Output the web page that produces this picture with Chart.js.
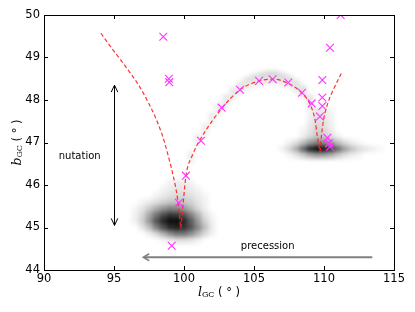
<!DOCTYPE html>
<html><head><meta charset="utf-8">
<script src="https://cdn.jsdelivr.net/npm/chart.js@4.4.1/dist/chart.umd.min.js"></script>
<style>html,body{margin:0;padding:0;background:#fff}#wrap{width:415px;height:312px}</style>
</head><body><div id="wrap"><canvas id="c" width="415" height="312"></canvas></div>
<script>
// ---------- data ----------
const xTicks = [90, 95, 100, 105, 110, 115];
const yTicks = [44, 45, 46, 47, 48, 49, 50];

// observed positions (magenta crosses)
const obsX = [98.52, 98.92, 98.95, 101.21, 102.69, 104.0, 105.36, 106.33, 107.45, 108.43, 109.12,
              109.88, 109.88, 109.88, 109.71, 110.43, 111.19, 110.24, 110.35, 110.43, 100.14, 99.64, 99.12];
const obsY = [49.49, 48.50, 48.42, 47.04, 47.82, 48.24, 48.45, 48.49, 48.41, 48.17, 47.92,
              48.47, 48.06, 47.86, 47.61, 49.23, 50.00, 47.11, 46.98, 46.90, 46.22, 45.58, 44.57];

// model track (red dashed), three branches between the cusps
const trackLeftX  = [94.07, 94.83, 95.67, 97.10, 98.40, 98.95, 99.24, 99.52, 99.78];
const trackLeftY  = [49.57, 49.22, 48.86, 48.16, 47.22, 46.59, 46.20, 45.72, 44.98];
const trackArcX   = [99.78, 99.95, 100.14, 100.60, 101.14, 102.69, 104.00, 105.36, 106.38, 107.45, 108.40, 109.00, 109.36, 109.50, 109.72];
const trackArcY   = [44.98, 45.60, 46.22, 46.70, 47.06, 47.80, 48.24, 48.45, 48.49, 48.39, 48.17, 47.90, 47.53, 47.20, 46.78];
const trackRightX = [109.72, 109.80, 109.98, 110.30, 110.75, 111.26];
const trackRightY = [46.78, 47.10, 47.55, 47.95, 48.30, 48.64];

// density map: rows of cells (row centre b, first l, values of 0.5 deg wide bins)
const heatRowB  = [46.05, 45.9, 45.75, 45.6, 45.45, 45.3, 45.15, 45.0, 44.85, 44.7,
                   47.75, 47.6, 47.45, 47.3, 47.15, 47.0, 46.85, 46.7];
const heatRowL0 = [99.0, 98.5, 98.0, 97.0, 96.5, 96.5, 96.5, 97.0, 97.5, 98.5,
                   109.0, 109.0, 109.0, 108.5, 108.5, 107.5, 107.0, 107.5];
const heatRowV  = [
  [0.05,0.07,0.07,0.05],
  [0.05,0.08,0.10,0.10,0.08,0.05],
  [0.05,0.08,0.12,0.15,0.15,0.12,0.08,0.04],
  [0.04,0.08,0.12,0.18,0.22,0.25,0.22,0.18,0.10,0.05],
  [0.04,0.10,0.20,0.32,0.42,0.50,0.48,0.40,0.28,0.15,0.06],
  [0.06,0.15,0.35,0.55,0.72,0.82,0.80,0.70,0.50,0.30,0.12,0.04],
  [0.06,0.18,0.40,0.68,0.88,1.00,1.00,0.88,0.65,0.40,0.18,0.06],
  [0.10,0.25,0.50,0.72,0.88,0.92,0.85,0.70,0.48,0.25,0.08],
  [0.06,0.15,0.30,0.45,0.55,0.55,0.45,0.30,0.15,0.05],
  [0.04,0.08,0.12,0.12,0.10,0.06],
  [0.05,0.10,0.08,0.04],
  [0.06,0.12,0.10,0.05],
  [0.08,0.15,0.12,0.06],
  [0.04,0.10,0.18,0.15,0.08],
  [0.06,0.14,0.22,0.20,0.12,0.05],
  [0.05,0.12,0.25,0.40,0.50,0.48,0.38,0.25,0.14,0.07,0.03],
  [0.05,0.15,0.32,0.60,0.88,1.00,0.95,0.80,0.58,0.38,0.24,0.15,0.10,0.06,0.03],
  [0.04,0.10,0.20,0.32,0.38,0.36,0.30,0.20,0.12,0.07,0.04]
];
// faint density along the arc: l, b, value
const heatArcL = [100.5,100.5,101.0,101.0,101.5,101.5,102.0,102.0,102.5,102.5,103.0,103.0,103.5,103.5,104.0,104.0,104.5,104.5,
                  105.0,105.0,105.5,105.5,106.0,106.0,106.5,106.5,107.0,107.0,107.5,107.5,108.0,108.0,108.5,108.5,109.0,109.0];
const heatArcB = [46.72,46.57,47.10,46.95,47.37,47.22,47.62,47.47,47.85,47.70,48.05,47.90,48.22,48.07,48.36,48.21,48.47,48.32,
                  48.54,48.39,48.58,48.43,48.61,48.46,48.61,48.46,48.57,48.42,48.51,48.36,48.40,48.25,48.27,48.12,48.04,47.89];
const heatArcV = [0.08,0.06,0.08,0.06,0.08,0.06,0.09,0.06,0.09,0.06,0.10,0.07,0.10,0.07,0.11,0.08,0.12,0.08,
                  0.13,0.09,0.15,0.09,0.16,0.10,0.16,0.10,0.14,0.09,0.13,0.09,0.13,0.09,0.13,0.09,0.12,0.09];

// annotations
const nutationArrowX = [95, 95];
const nutationArrowY = [48.35, 45.05];
const precessionArrowX = [113.45, 97.09];
const precessionArrowY = [44.30, 44.30];
const nutationLabel = {text: 'nutation', x: 92.55, y: 46.68};
const precessionLabel = {text: 'precession', x: 105.98, y: 44.55};

// ---------- styling ----------
const BIN_W = 0.5, BIN_H = 0.15;
const RED = 'rgba(255,30,30,0.9)';
const MAGENTA = '#ff33ff';
const FONT = '"DejaVu Sans", "Bitstream Vera Sans", sans-serif';

function pts(xs, ys) { return xs.map((v, i) => ({x: v, y: ys[i]})); }
function trackDs(xs, ys) {
  return {type: 'line', data: pts(xs, ys), borderColor: RED, borderWidth: 1.2, borderDash: [4, 2.5],
          pointRadius: 0, fill: false, cubicInterpolationMode: 'monotone', clip: 0, order: 2};
}

const heatPlugin = {
  id: 'heat',
  beforeDatasetsDraw(chart) {
    const {ctx, chartArea: a, scales: {x, y}} = chart;
    const off = document.createElement('canvas');
    off.width = chart.width; off.height = chart.height;
    const o = off.getContext('2d');
    const cell = (l, b, v) => {
      const x0 = x.getPixelForValue(l - BIN_W / 2), x1 = x.getPixelForValue(l + BIN_W / 2);
      const y0 = y.getPixelForValue(b + BIN_H / 2), y1 = y.getPixelForValue(b - BIN_H / 2);
      o.fillStyle = `rgba(0,0,0,${v})`;
      o.fillRect(x0, y0, x1 - x0, y1 - y0);
    };
    heatRowB.forEach((b, r) => heatRowV[r].forEach((v, k) => cell(heatRowL0[r] + k * BIN_W, b, v)));
    heatArcL.forEach((l, i) => cell(l, heatArcB[i], heatArcV[i]));
    ctx.save();
    ctx.beginPath(); ctx.rect(a.left, a.top, a.right - a.left, a.bottom - a.top); ctx.clip();
    ctx.filter = 'blur(2px)';
    ctx.drawImage(off, 0, 0);
    ctx.restore();
  }
};

function drawTitle(ctx, cx, cy, sym, rot) {
  const parts = [
    {t: sym, f: 'italic 12.5px "DejaVu Serif", serif', dy: 0},
    {t: 'GC', f: '8px "DejaVu Serif", serif', dy: 2},
    {t: ' ( ° )', f: '11.5px ' + FONT, dy: 0}
  ];
  ctx.save();
  ctx.translate(cx, cy);
  if (rot) ctx.rotate(-Math.PI / 2);
  let w = 0;
  parts.forEach(p => { ctx.font = p.f; p.w = ctx.measureText(p.t).width; w += p.w; });
  let xx = -w / 2;
  ctx.fillStyle = '#000';
  ctx.textBaseline = 'middle';
  ctx.textAlign = 'left';
  parts.forEach(p => { ctx.font = p.f; ctx.fillText(p.t, xx, p.dy); xx += p.w; });
  ctx.restore();
}

const overlayPlugin = {
  id: 'overlay',
  afterDraw(chart) {
    const {ctx, chartArea: a, scales: {x, y}} = chart;
    ctx.save();
    // frame
    ctx.strokeStyle = '#000'; ctx.lineWidth = 1;
    ctx.strokeRect(Math.round(a.left) + 0.5, Math.round(a.top) + 0.5, Math.round(a.right - a.left), Math.round(a.bottom - a.top));
    // inward ticks on all four sides
    ctx.beginPath();
    xTicks.forEach(t => {
      const px = Math.round(x.getPixelForValue(t)) + 0.5;
      ctx.moveTo(px, a.bottom); ctx.lineTo(px, a.bottom - 4);
      ctx.moveTo(px, a.top); ctx.lineTo(px, a.top + 4);
    });
    yTicks.forEach(t => {
      const py = Math.round(y.getPixelForValue(t)) + 0.5;
      ctx.moveTo(a.left, py); ctx.lineTo(a.left + 4, py);
      ctx.moveTo(a.right, py); ctx.lineTo(a.right - 4, py);
    });
    ctx.stroke();

    // nutation double arrow
    const nx = Math.round(x.getPixelForValue(nutationArrowX[0])) + 0.5;
    const ny0 = y.getPixelForValue(nutationArrowY[0]), ny1 = y.getPixelForValue(nutationArrowY[1]);
    ctx.strokeStyle = '#000'; ctx.lineWidth = 1;
    ctx.beginPath();
    ctx.moveTo(nx, ny0); ctx.lineTo(nx, ny1);
    ctx.moveTo(nx - 3.3, ny0 + 7); ctx.lineTo(nx, ny0); ctx.lineTo(nx + 3.3, ny0 + 7);
    ctx.moveTo(nx - 3.3, ny1 - 7); ctx.lineTo(nx, ny1); ctx.lineTo(nx + 3.3, ny1 - 7);
    ctx.stroke();

    // precession arrow
    const px0 = x.getPixelForValue(precessionArrowX[0]), px1 = x.getPixelForValue(precessionArrowX[1]);
    const py = y.getPixelForValue(precessionArrowY[0]);
    ctx.strokeStyle = '#808080'; ctx.lineWidth = 2;
    ctx.beginPath();
    ctx.moveTo(px0, py); ctx.lineTo(px1 + 1, py);
    ctx.stroke();
    ctx.lineWidth = 1.5;
    ctx.beginPath();
    ctx.moveTo(px1 + 6, py - 3.5); ctx.lineTo(px1, py); ctx.lineTo(px1 + 6, py + 3.5);
    ctx.stroke();

    // labels
    ctx.fillStyle = '#000';
    ctx.font = '10px ' + FONT;
    ctx.textAlign = 'center'; ctx.textBaseline = 'middle';
    ctx.fillText(nutationLabel.text, x.getPixelForValue(nutationLabel.x), y.getPixelForValue(nutationLabel.y));
    ctx.fillText(precessionLabel.text, x.getPixelForValue(precessionLabel.x), y.getPixelForValue(precessionLabel.y));
    ctx.restore();

    // axis titles
    drawTitle(ctx, (a.left + a.right) / 2, 293, 'l', false);
    drawTitle(ctx, 18, (a.top + a.bottom) / 2, 'b', true);
  }
};

new Chart(document.getElementById('c'), {
  type: 'scatter',
  data: {
    datasets: [
      trackDs(trackLeftX, trackLeftY),
      trackDs(trackArcX, trackArcY),
      trackDs(trackRightX, trackRightY),
      {type: 'scatter', data: pts(obsX, obsY), pointStyle: 'crossRot', pointRadius: 5.5,
       borderColor: MAGENTA, backgroundColor: MAGENTA, pointBorderWidth: 1.1, clip: 0, order: 1}
    ]
  },
  options: {
    responsive: false, animation: false, devicePixelRatio: 1,
    layout: {padding: {top: 15, right: 21, left: 0, bottom: 0}},
    plugins: {legend: {display: false}, tooltip: {enabled: false}},
    scales: {
      x: {
        type: 'linear', min: 90, max: 115,
        afterBuildTicks: s => { s.ticks = xTicks.map(v => ({value: v})); },
        afterFit: s => { s.height = 42; },
        grid: {display: false, drawTicks: false}, border: {display: false},
        ticks: {color: '#000', font: {family: FONT, size: 11.5}, padding: 2, maxRotation: 0, autoSkip: false}
      },
      y: {
        type: 'linear', min: 44, max: 50,
        afterBuildTicks: s => { s.ticks = yTicks.map(v => ({value: v})); },
        afterFit: s => { s.width = 44; },
        grid: {display: false, drawTicks: false}, border: {display: false},
        ticks: {color: '#000', font: {family: FONT, size: 11.5}, padding: 4, autoSkip: false}
      }
    }
  },
  plugins: [heatPlugin, overlayPlugin]
});
</script>
</body></html>
